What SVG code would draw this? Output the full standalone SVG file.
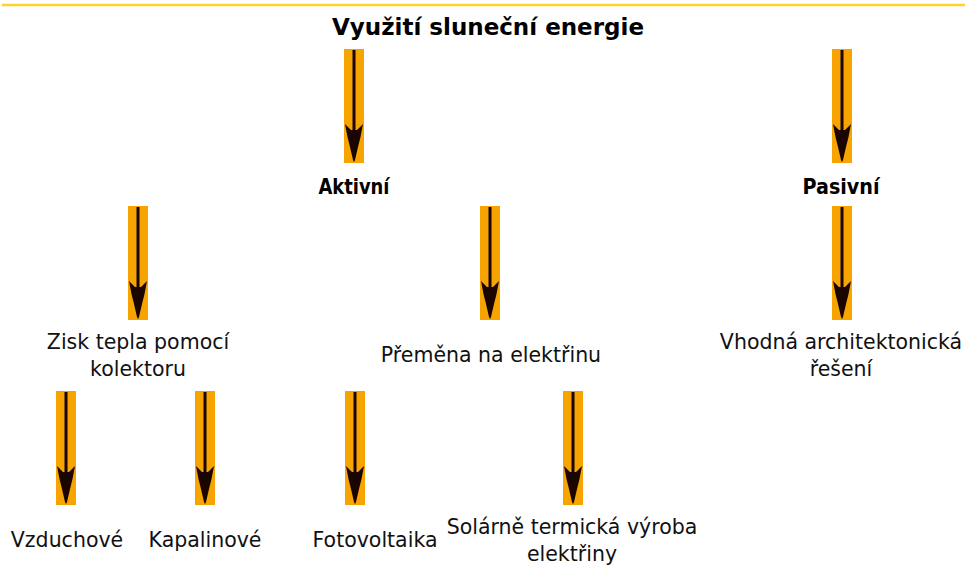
<svg xmlns="http://www.w3.org/2000/svg" width="965" height="565" viewBox="0 0 965 565">
<defs>
<style>
.t{font-family:"DejaVu Sans",Verdana,sans-serif;font-size:20.5px;fill:#111;text-anchor:middle}
.b{font-family:"DejaVu Sans",Verdana,sans-serif;font-weight:bold;font-size:21px;fill:#000;text-anchor:middle}
.h{font-family:"DejaVu Sans",Verdana,sans-serif;font-weight:bold;font-size:23px;fill:#000;text-anchor:middle}
</style>
<g id="arrow">
<rect x="-10" y="0" width="20" height="114" fill="#F7A300"/>
<line x1="0" y1="1" x2="0" y2="82" stroke="#1a0500" stroke-width="3"/>
<polygon points="-9,75 -3,81 3,81 9,75 6.5,88 4,98 1,111 0,113 -1,111 -4,98 -6.5,88" fill="#1a0500"/>
</g>
</defs>
<rect width="965" height="565" fill="#fff"/>
<line x1="2" y1="5" x2="965" y2="5" stroke="#FFD22E" stroke-width="2.5"/>
<g id="connectors">
<use href="#arrow" x="354" y="49"/>
<use href="#arrow" x="842" y="49"/>
<use href="#arrow" x="138" y="206"/>
<use href="#arrow" x="490" y="206"/>
<use href="#arrow" x="842" y="206"/>
<use href="#arrow" x="66" y="391"/>
<use href="#arrow" x="205" y="391"/>
<use href="#arrow" x="355" y="391"/>
<use href="#arrow" x="573" y="391"/>
</g>
<g id="title"><text class="h" x="488" y="35">Využití sluneční energie</text></g>
<g id="aktivni"><text class="b" x="354" y="194" textLength="71" lengthAdjust="spacingAndGlyphs">Aktivní</text></g>
<g id="pasivni"><text class="b" x="841" y="194" textLength="77" lengthAdjust="spacingAndGlyphs">Pasivní</text></g>
<g id="zisk"><text class="t" x="138" y="349">Zisk tepla pomocí</text><text class="t" x="138" y="376">kolektoru</text></g>
<g id="premena"><text class="t" x="491" y="362">Přeměna na elektřinu</text></g>
<g id="vhodna"><text class="t" x="841" y="349">Vhodná architektonická</text><text class="t" x="841" y="376">řešení</text></g>
<g id="vzduchove"><text class="t" x="67" y="547">Vzduchové</text></g>
<g id="kapalinove"><text class="t" x="205" y="547">Kapalinové</text></g>
<g id="fotovoltaika"><text class="t" x="375" y="547">Fotovoltaika</text></g>
<g id="solarne"><text class="t" x="572" y="534">Solárně termická výroba</text><text class="t" x="572" y="561">elektřiny</text></g>
</svg>
